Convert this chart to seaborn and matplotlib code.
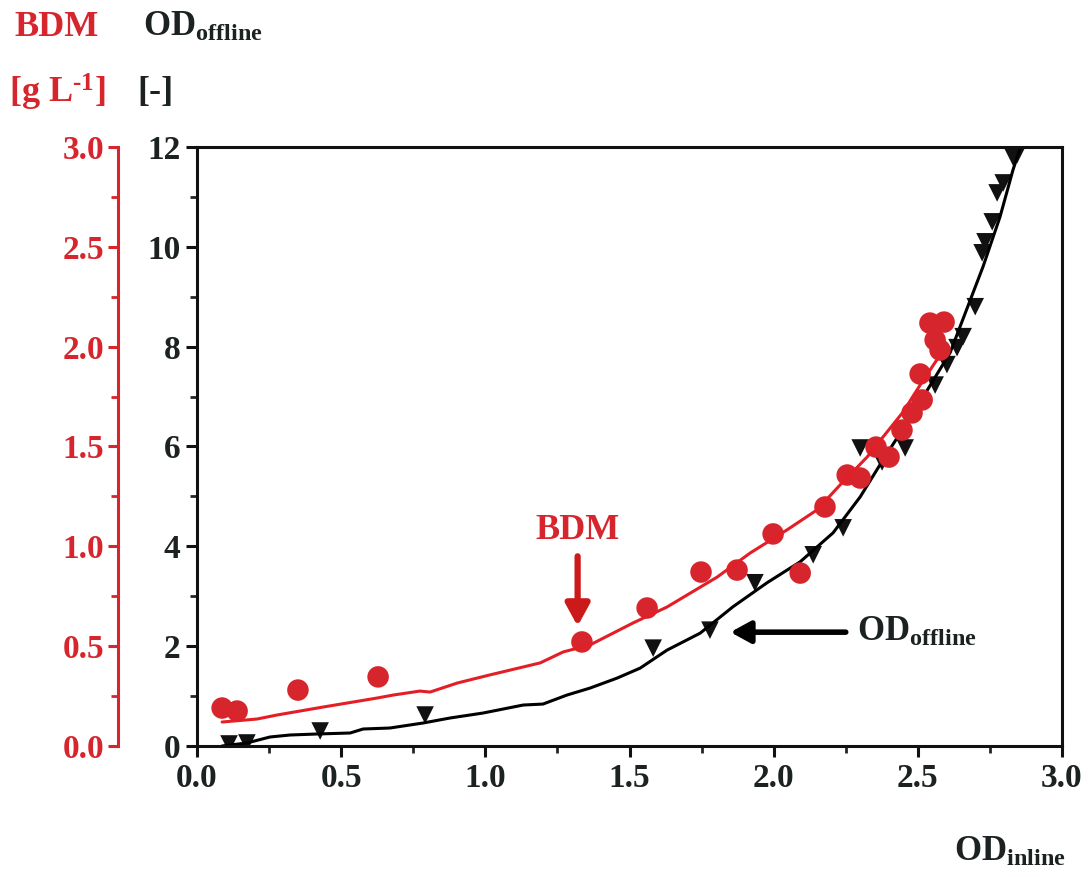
import matplotlib
matplotlib.use("Agg")
import matplotlib.pyplot as plt
import seaborn as sns
import pandas as pd
from matplotlib.ticker import MultipleLocator

# Inline OD vs offline OD and biomass dry matter (BDM)
bdm_x = [0.087, 0.139, 0.350, 0.628, 1.335, 1.561, 1.748, 1.873, 1.998, 2.092, 2.178,
         2.255, 2.300, 2.355, 2.400, 2.445, 2.480, 2.515, 2.508, 2.560, 2.577, 2.542, 2.591]
bdm_y = [0.190, 0.175, 0.280, 0.346, 0.521, 0.691, 0.871, 0.881, 1.062, 0.866, 1.197,
         1.357, 1.342, 1.497, 1.447, 1.582, 1.668, 1.733, 1.863, 2.033, 1.983, 2.118, 2.123]

od_x = [0.111, 0.173, 0.427, 0.791, 1.582, 1.779, 1.935, 2.137, 2.241, 2.300, 2.376, 2.456,
        2.560, 2.601, 2.636, 2.657, 2.699, 2.723, 2.733, 2.758, 2.775, 2.796, 2.830, 2.844]
od_y = [0.04, 0.06, 0.30, 0.62, 1.96, 2.32, 3.27, 3.83, 4.37, 5.97, 5.69, 5.97,
        7.23, 7.64, 7.98, 8.20, 8.80, 9.88, 10.10, 10.50, 11.08, 11.28, 11.80, 11.84]

bdm_fit_x = [0.087, 0.208, 0.277, 0.357, 0.437, 0.520, 0.624, 0.680, 0.773, 0.808, 0.902,
             1.016, 1.190, 1.270, 1.363, 1.512, 1.630, 1.804, 1.918, 2.046, 2.150, 2.230,
             2.324, 2.379, 2.449, 2.508, 2.577]
bdm_fit_y = [0.120, 0.135, 0.155, 0.175, 0.195, 0.215, 0.240, 0.255, 0.275, 0.270, 0.315,
             0.356, 0.416, 0.471, 0.506, 0.616, 0.696, 0.846, 0.966, 1.082, 1.182, 1.307,
             1.447, 1.547, 1.673, 1.808, 1.958]

od_fit_x = [0.087, 0.173, 0.253, 0.323, 0.416, 0.531, 0.576, 0.669, 0.784, 0.877, 0.992,
            1.131, 1.200, 1.283, 1.363, 1.457, 1.537, 1.630, 1.745, 1.859, 1.977, 2.092,
            2.206, 2.300, 2.379, 2.497, 2.612, 2.726, 2.785, 2.830, 2.855]
od_fit_y = [0.00, 0.06, 0.18, 0.22, 0.24, 0.26, 0.34, 0.36, 0.46, 0.56, 0.66,
            0.82, 0.84, 1.02, 1.16, 1.36, 1.56, 1.92, 2.26, 2.79, 3.27, 3.69,
            4.27, 4.99, 5.73, 6.79, 7.88, 9.60, 10.60, 11.54, 11.98]

RED = "#d6252c"
DARK = "#1c2222"

sns.set_theme(style="white")
plt.rcParams["font.family"] = ["Liberation Serif", "DejaVu Serif"]
plt.rcParams["font.weight"] = "bold"
plt.rcParams["mathtext.fontset"] = "custom"
plt.rcParams["mathtext.rm"] = "Liberation Serif:bold"
plt.rcParams["mathtext.bf"] = "Liberation Serif:bold"
plt.rcParams["mathtext.it"] = "Liberation Serif:bold"

fig = plt.figure(figsize=(10.88, 8.77), dpi=100)
ax = fig.add_axes([0.1811, 0.1494, 0.795, 0.683])
ax2 = ax.twinx()

od_pts = pd.DataFrame({"x": od_x, "y": od_y})
od_fit = pd.DataFrame({"x": od_fit_x, "y": od_fit_y})
bdm_pts = pd.DataFrame({"x": bdm_x, "y": bdm_y})
bdm_fit = pd.DataFrame({"x": bdm_fit_x, "y": bdm_fit_y})

sns.lineplot(data=od_fit, x="x", y="y", ax=ax, color="black", lw=2.2, sort=False,
             estimator=None)
sns.scatterplot(data=od_pts, x="x", y="y", ax=ax, marker="v", s=160, color="#111111",
                edgecolor="none")

sns.lineplot(data=bdm_fit, x="x", y="y", ax=ax2, color="#e41e26", lw=2.2, sort=False,
             estimator=None)
sns.scatterplot(data=bdm_pts, x="x", y="y", ax=ax2, marker="o", s=240, color=RED,
                edgecolor="none")

ax.set_xlim(0, 3.0)
ax.set_ylim(0, 12)
ax2.set_ylim(0, 3.0)
for a in (ax, ax2):
    a.set_xlabel("")
    a.set_ylabel("")

# main axes frame and ticks
for sp in ax.spines.values():
    sp.set_linewidth(2.2)
    sp.set_color("#111111")
ax.xaxis.set_major_locator(MultipleLocator(0.5))
ax.xaxis.set_minor_locator(MultipleLocator(0.25))
ax.yaxis.set_major_locator(MultipleLocator(2))
ax.yaxis.set_minor_locator(MultipleLocator(1))
ax.tick_params(axis="both", which="major", direction="out", length=8, width=2.2,
               labelsize=24, colors="#111111", bottom=True, left=True, top=False,
               right=False, pad=4)
ax.tick_params(axis="both", which="minor", direction="out", length=5, width=2,
               bottom=True, left=True, top=False, right=False)
ax.set_xticks([0, 0.5, 1.0, 1.5, 2.0, 2.5, 3.0])
ax.set_xticklabels(["0.0", "0.5", "1.0", "1.5", "2.0", "2.5", "3.0"], fontweight="bold")
ax.set_yticks([0, 2, 4, 6, 8, 10, 12])
ax.set_yticklabels(["0", "2", "4", "6", "8", "10", "12"], fontweight="bold")
for lab in ax.get_xticklabels() + ax.get_yticklabels():
    lab.set_color(DARK)

# BDM axis on the far left
for name in ("top", "bottom", "right"):
    ax2.spines[name].set_visible(False)
ax2.spines["left"].set_visible(True)
ax2.spines["left"].set_position(("outward", 57))
ax2.spines["left"].set_color(RED)
ax2.spines["left"].set_linewidth(2.2)
ax2.yaxis.set_ticks_position("left")
ax2.yaxis.set_label_position("left")
ax2.yaxis.set_major_locator(MultipleLocator(0.5))
ax2.yaxis.set_minor_locator(MultipleLocator(0.25))
ax2.tick_params(axis="y", which="major", direction="out", length=7, width=2.2,
                colors=RED, labelsize=24, pad=3)
ax2.tick_params(axis="y", which="minor", direction="out", length=5, width=2, colors=RED)
ax2.set_yticks([0, 0.5, 1.0, 1.5, 2.0, 2.5, 3.0])
ax2.set_yticklabels(["0.0", "0.5", "1.0", "1.5", "2.0", "2.5", "3.0"], fontweight="bold")

# axis titles
fig.text(57 / 1088, 1 - 27 / 877, "BDM", color=RED, fontsize=26, fontweight="bold",
         ha="center", va="center")
fig.text(57 / 1088, 1 - 92 / 877, "[g L$^{\u2010\\mathrm{1}}$]", color=RED, fontsize=26,
         fontweight="bold", ha="center", va="center")
fig.text(143 / 1088, 1 - 27 / 877, r"OD$_{\mathrm{offline}}$", color=DARK, fontsize=25,
         ha="left", va="center")
fig.text(155 / 1088, 1 - 92 / 877, "[-]", color=DARK, fontsize=26, fontweight="bold",
         ha="center", va="center")
fig.text(1010 / 1088, 1 - 852 / 877, r"OD$_{\mathrm{inline}}$", color=DARK, fontsize=25,
         ha="center", va="center")

# annotations
ax2.annotate("", xy=(1.32, 0.60), xytext=(1.32, 0.95),
             arrowprops=dict(arrowstyle="-|>,head_width=0.6,head_length=1.1", color="#cc1a1a",
                             lw=4.5, shrinkA=0, shrinkB=0))
ax2.text(1.32, 1.08, "BDM", color=RED, fontsize=26, fontweight="bold", ha="center",
         va="center")
ax.annotate("", xy=(1.85, 2.28), xytext=(2.25, 2.28),
            arrowprops=dict(arrowstyle="-|>,head_width=0.55,head_length=1.0", color="black",
                            lw=4, shrinkA=0, shrinkB=0))
ax.text(2.29, 2.28, r"OD$_{\mathrm{offline}}$", color=DARK, fontsize=25, ha="left",
        va="center")

fig.savefig("out.png", dpi=100, facecolor="white")
